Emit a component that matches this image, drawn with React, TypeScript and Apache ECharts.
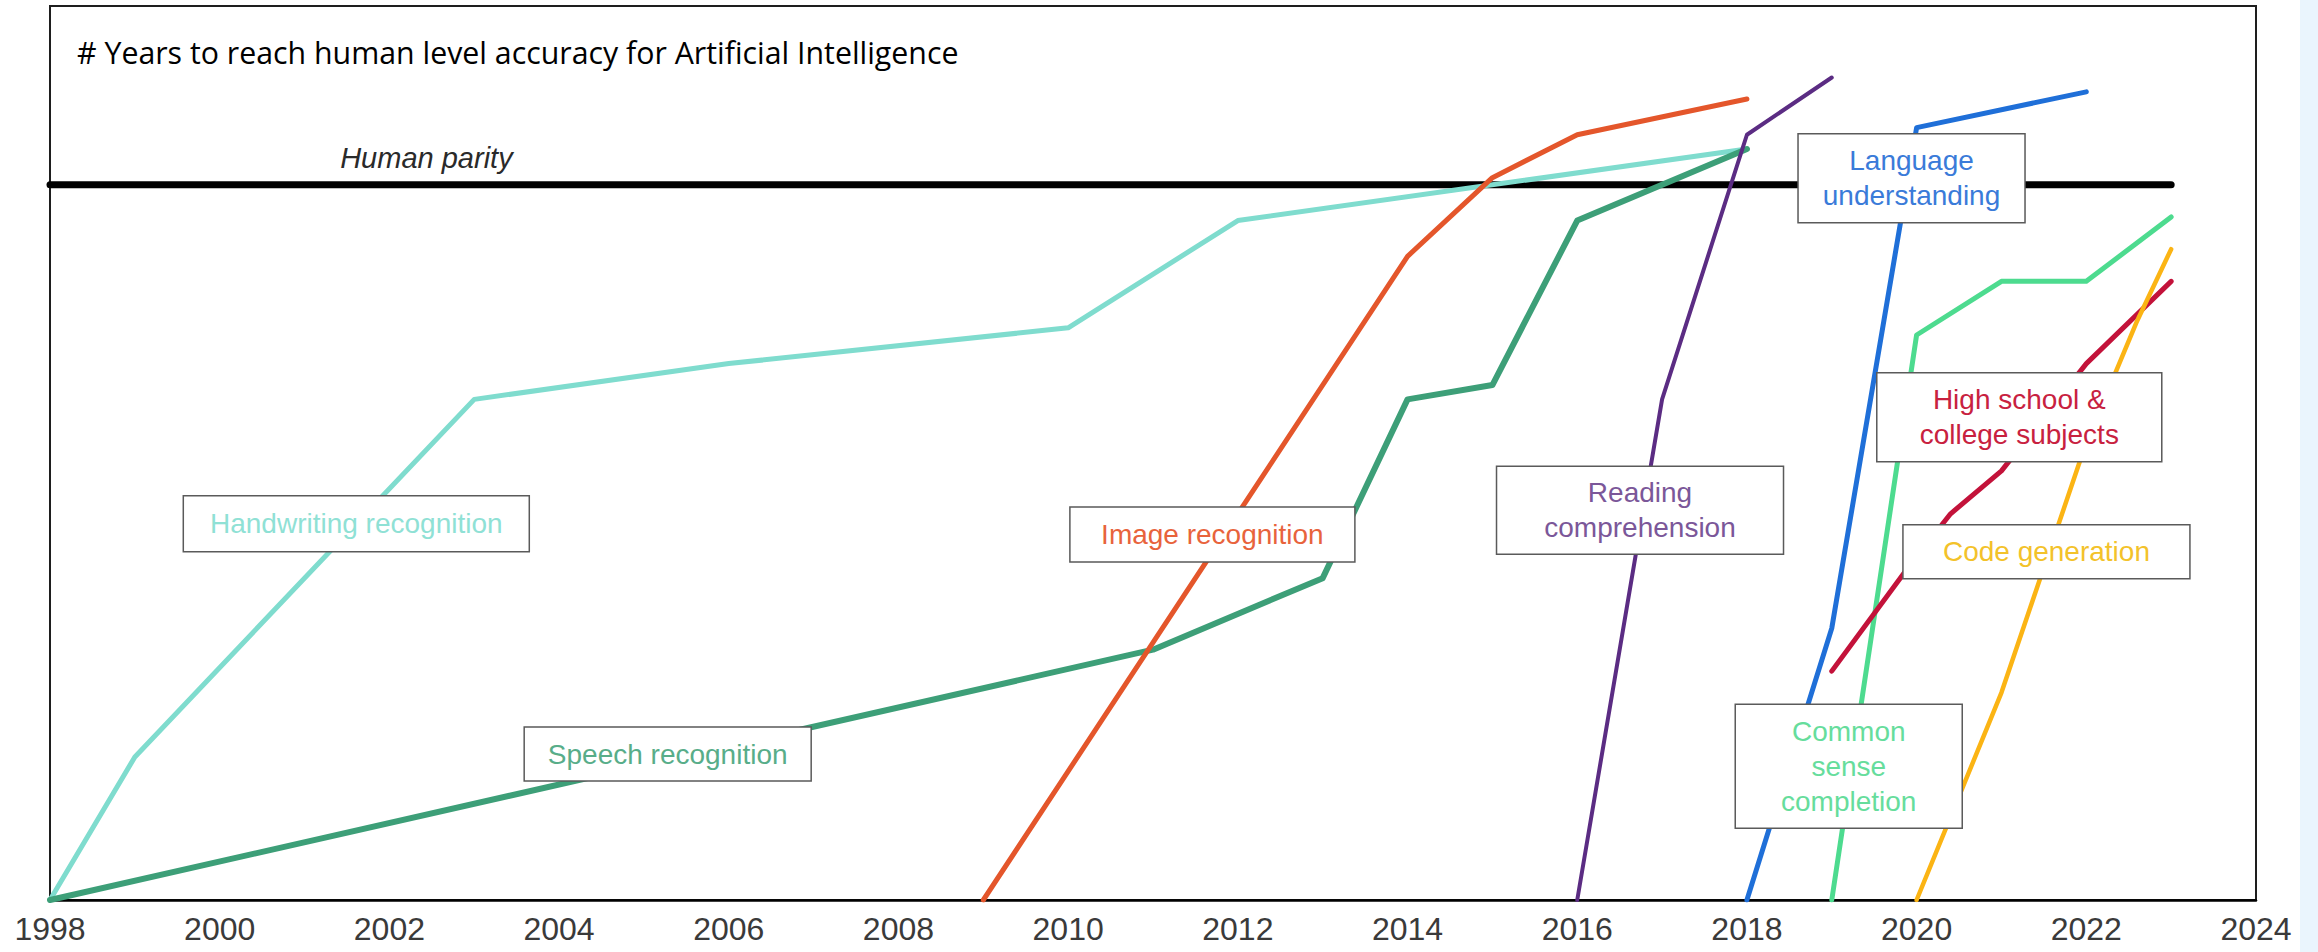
import React, { useEffect, useRef } from "react";
import * as echarts from "echarts";

// ---- data (year, score relative to human parity = 0, start = -100) ----
const xMin = 1998;
const xMax = 2024;
const xInterval = 2;
const yMin = -100;
const yMax = 25;

const humanParity = [[1998, 0], [2023, 0]];
const handwriting = [[1998, -100], [1999, -80], [2003, -30], [2006, -25], [2010, -20], [2012, -5], [2018, 5]];
const speech = [[1998, -100], [2011, -65], [2013, -55], [2014, -30], [2015, -28], [2016, -5], [2018, 5]];
const image = [[2009, -100], [2014, -10], [2015, 1], [2016, 7], [2018, 12]];
const reading = [[2016, -100], [2017, -30], [2018, 7], [2019, 15]];
const language = [[2018, -100], [2019, -62], [2020, 8], [2022, 13]];
const commonSense = [[2019, -100], [2020, -21], [2021, -13.5], [2022, -13.5], [2023, -4.5]];
const highSchool = [[2019, -68], [2019.9, -53.5], [2020.4, -46], [2021, -40], [2022, -25], [2023, -13.5]];
const codeGen = [[2020, -100], [2021, -71], [2022, -36], [2022.6, -19], [2023, -9]];

const titleText = "# Years to reach human level accuracy for Artificial Intelligence";
const parityText = "Human parity";

// ---- styling / annotation placement ----
const seriesDefs = [
  { name: "Handwriting recognition", data: handwriting, color: "#7fdcce", width: 5 },
  { name: "Speech recognition", data: speech, color: "#3d9f78", width: 6 },
  { name: "Image recognition", data: image, color: "#e4562b", width: 5 },
  { name: "Reading comprehension", data: reading, color: "#5b2c83", width: 4 },
  { name: "Language understanding", data: language, color: "#1f6fd8", width: 5 },
  { name: "Common sense completion", data: commonSense, color: "#4ddb8f", width: 5 },
  { name: "High school & college subjects", data: highSchool, color: "#c3123a", width: 5 },
  { name: "Code generation", data: codeGen, color: "#fbb414", width: 4.5 },
];

const labelDefs = [
  { text: "Handwriting recognition", at: [2001.61, -47.4], w: 346, h: 56, color: "#8fe1d5" },
  { text: "Image recognition", at: [2011.7, -48.9], w: 285, h: 55, color: "#e8633c" },
  { text: "Reading\ncomprehension", at: [2016.74, -45.5], w: 287, h: 88, color: "#7b5799" },
  { text: "Language\nunderstanding", at: [2019.94, 0.9], w: 227, h: 89, color: "#3a7bd9" },
  { text: "High school &\ncollege subjects", at: [2021.21, -32.5], w: 285, h: 89, color: "#c8213f" },
  { text: "Code generation", at: [2021.53, -51.3], w: 287, h: 54, color: "#f3c22a" },
  { text: "Speech recognition", at: [2005.28, -79.6], w: 287, h: 54, color: "#58ad89" },
  { text: "Common\nsense\ncompletion", at: [2019.2, -81.3], w: 227, h: 124, color: "#66dd9c" },
];

const W = 2318;
const H = 952;

export default function App() {
  const ref = useRef<HTMLDivElement>(null);

  useEffect(() => {
    if (!ref.current) return;
    const chart = echarts.init(ref.current, null, { renderer: "svg" });

    const series: any[] = [
      {
        type: "line",
        name: "Human parity",
        data: humanParity,
        symbol: "none",
        z: 1,
        lineStyle: { color: "#000", width: 7, cap: "round" },
      },
      ...seriesDefs.map((s, i) => ({
        type: "line",
        name: s.name,
        data: s.data,
        symbol: "none",
        z: 2 + i,
        lineStyle: { color: s.color, width: s.width, cap: "round", join: "round" },
      })),
    ];

    chart.setOption({
      animation: false,
      backgroundColor: "#fff",
      grid: {
        left: 50,
        right: 62,
        top: 6,
        bottom: 52,
        show: true,
        borderColor: "#1e1e1e",
        borderWidth: 2,
        backgroundColor: "#fff",
      },
      xAxis: {
        type: "value",
        min: xMin,
        max: xMax,
        interval: xInterval,
        axisLine: { show: true, onZero: false, lineStyle: { color: "#000", width: 2.5 } },
        axisTick: { show: false },
        splitLine: { show: false },
        axisLabel: {
          color: "#3a3a3a",
          fontSize: 32,
          fontFamily: "Liberation Sans",
          margin: 13,
          formatter: (v: number) => String(v),
        },
      },
      yAxis: {
        type: "value",
        min: yMin,
        max: yMax,
        show: false,
        splitLine: { show: false },
      },
      series,
    });

    const px = (p: number[]) => chart.convertToPixel({ gridIndex: 0 }, p) as number[];

    const graphics: any[] = [
      {
        type: "rect",
        shape: { x: 2300, y: 0, width: 18, height: H },
        style: { fill: "#eaf5fd" },
        z: 50,
      },
      {
        type: "text",
        x: 77,
        y: 52,
        z: 60,
        style: {
          text: titleText,
          font: '30.3px "Open Sans"',
          fill: "#000",
          align: "left",
          verticalAlign: "middle",
        },
      },
    ];

    const pp = px([2001.42, 3.8]);
    graphics.push({
      type: "text",
      x: pp[0],
      y: pp[1],
      z: 60,
      style: {
        text: parityText,
        font: 'italic 29px "Liberation Sans"',
        fill: "#2a2a2a",
        align: "left",
        verticalAlign: "middle",
      },
    });

    labelDefs.forEach((l) => {
      const c = px(l.at);
      graphics.push({
        type: "group",
        z: 100,
        children: [
          {
            type: "rect",
            z: 100,
            shape: { x: c[0] - l.w / 2, y: c[1] - l.h / 2, width: l.w, height: l.h },
            style: { fill: "#fff", stroke: "#5a5a5a", lineWidth: 1.5 },
          },
          {
            type: "text",
            z: 101,
            x: c[0],
            y: c[1],
            style: {
              text: l.text,
              font: '28px "Liberation Sans"',
              lineHeight: 35,
              fill: l.color,
              align: "center",
              verticalAlign: "middle",
            },
          },
        ],
      });
    });

    chart.setOption({ graphic: graphics });

    return () => chart.dispose();
  }, []);

  return (
    <div
      ref={ref}
      style={{ position: "absolute", left: 0, top: 0, width: W, height: H, background: "#fff" }}
    />
  );
}
